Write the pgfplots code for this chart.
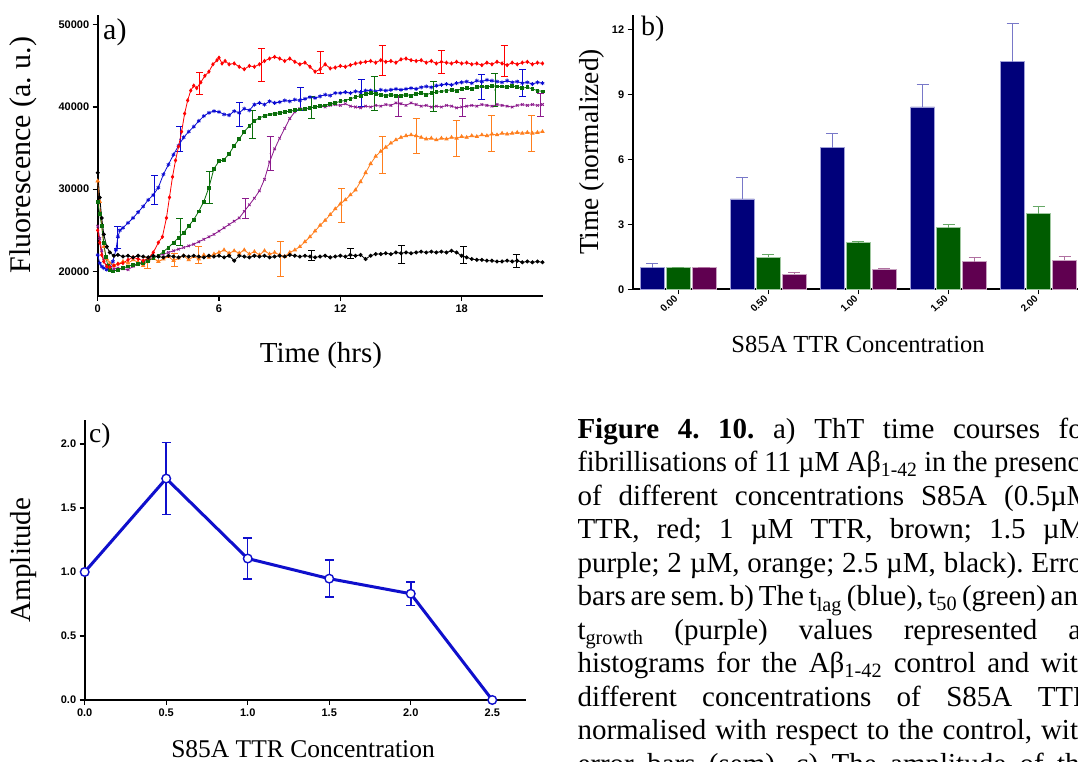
\documentclass[border=0pt]{standalone}
\usepackage{pgfplots}
\pgfplotsset{compat=1.18}
\usepackage{fontspec}
\usepackage{graphicx}
\setmainfont{Liberation Serif}
\newfontfamily\ticksans{Liberation Sans}
\newcommand\tickfont{\ticksans\bfseries\fontsize{11}{12}\selectfont}
\definecolor{cRed}{HTML}{FF0000}
\definecolor{cBlue}{HTML}{0A0AD2}
\definecolor{cGreen}{HTML}{0A6E0A}
\definecolor{cPurple}{HTML}{8C1A8C}
\definecolor{cOrange}{HTML}{FF7F1E}
\definecolor{cNavy}{HTML}{00007A}
\definecolor{cNavyE}{HTML}{A0A0D8}
\definecolor{cNavyErr}{HTML}{7878C8}
\definecolor{cDG}{HTML}{005C00}
\definecolor{cDGE}{HTML}{A0C8A0}
\definecolor{cDGErr}{HTML}{66A866}
\definecolor{cPl}{HTML}{600050}
\definecolor{cPlE}{HTML}{C8A0C0}
\definecolor{cPlErr}{HTML}{B070A0}
\definecolor{cLine}{HTML}{0F0FCC}
\pgfplotsset{
  /pgf/number format/assume math mode=true,
  base/.style={scale only axis, axis x line*=bottom, axis y line*=left,
    axis line style={line width=1.6pt, black},
    every tick/.style={black, line width=1.2pt},
    major tick length=5pt, tick align=outside,
    scaled ticks=false,
    tick label style={font=\tickfont}, clip=false},
  ebar/.style={only marks, mark=*, mark size=0.3pt, forget plot,
    error bars/.cd, y dir=both, y explicit,
    error bar style={line width=0.9pt},
    error mark options={rotate=90, mark size=3.5pt, line width=0.9pt}},
}
\newcommand\capline[2]{\node[anchor=base west, inner sep=0pt, font=\fontsize{29}{33.5}\selectfont] at (577.3pt,#1) {#2};}
\begin{document}
\frenchspacing
\begin{tikzpicture}
\useasboundingbox (0pt,0pt) rectangle (1078pt,762pt);
\clip (0pt,0pt) rectangle (1078pt,762pt);
\fill[white] (0pt,0pt) rectangle (1078pt,762pt);

% ---------------- panel a
\begin{axis}[base, at={(97.7pt,466pt)}, anchor=south west,
  width=444.8pt, height=281pt, xmin=0, xmax=22, ymin=17000, ymax=51200,
  xtick={0,6,12,18}, ytick={20000,30000,40000,50000},
  yticklabel style={/pgf/number format/1000 sep={}}]
% orange
\addplot[cOrange, line width=0.8pt, mark=triangle*, mark size=1.8pt] table[row sep=\\] {
0 31000\\ 0.1 28500\\ 0.2 25500\\ 0.3 23000\\ 0.45 21500\\ 0.6 21000\\ 0.8 20700\\ 1.0 20900\\
1.25 21200\\ 1.5 21000\\ 1.75 21400\\ 2.0 21100\\ 2.25 20700\\ 2.5 21300\\ 2.75 21600\\ 3.0 21200\\
3.25 21500\\ 3.5 21800\\ 3.75 21300\\ 4.0 21600\\ 4.25 21900\\ 4.5 21400\\ 4.75 21800\\ 5.0 21500\\
5.25 22000\\ 5.5 21700\\ 5.75 22100\\ 6.0 22300\\ 6.25 22600\\ 6.5 22200\\ 6.75 22500\\ 7.0 22200\\
7.25 22600\\ 7.5 22100\\ 7.75 22400\\ 8.0 22000\\ 8.25 22500\\ 8.5 22100\\ 8.75 22300\\ 9.0 22000\\
9.25 21800\\ 9.5 22300\\ 9.75 22600\\ 10.0 23000\\ 10.25 23600\\ 10.5 24200\\ 10.75 24900\\ 11.0 25600\\
11.25 26200\\ 11.5 26900\\ 11.75 27600\\ 12.0 28200\\ 12.25 28700\\ 12.5 29300\\ 12.75 29900\\ 13.0 30900\\
13.25 32000\\ 13.5 33100\\ 13.75 34000\\ 14.0 34600\\ 14.25 35100\\ 14.5 35600\\ 14.75 36000\\ 15.0 36300\\
15.25 36500\\ 15.5 36600\\ 15.75 36500\\ 16.0 36300\\ 16.25 36100\\ 16.5 36200\\ 16.75 36000\\ 17.0 36200\\
17.25 36100\\ 17.5 36300\\ 17.75 36200\\ 18.0 36400\\ 18.25 36300\\ 18.5 36500\\ 18.75 36400\\ 19.0 36600\\
19.25 36500\\ 19.5 36700\\ 19.75 36600\\ 20.0 36800\\ 20.25 36700\\ 20.5 36800\\ 20.75 36900\\ 21.0 36800\\
21.25 36900\\ 21.5 36800\\ 21.75 36900\\ 22.0 37000\\
};
\addplot[cOrange, ebar] coordinates {(2.48,21040)+-(0,710) (3.8,21350)+-(0,810) (5.0,21950)+-(0,1020) (9.03,21490)+-(0,2090) (12.07,27990)+-(0,2090) (14.07,34190)+-(0,2280) (15.75,36490)+-(0,2130) (17.73,36220)+-(0,2200) (19.47,36790)+-(0,2240) (21.47,36830)+-(0,2200)};
% purple
\addplot[cPurple, line width=0.8pt, mark=x, mark size=1.8pt] table[row sep=\\] {
0 25500\\ 0.1 24000\\ 0.2 22500\\ 0.3 21300\\ 0.45 20500\\ 0.6 20200\\ 0.8 20300\\ 1.0 20400\\
1.25 20300\\ 1.5 20200\\ 1.75 20600\\ 2.0 20900\\ 2.25 21200\\ 2.5 21500\\ 2.75 21700\\ 3.0 21900\\
3.25 22100\\ 3.5 22300\\ 3.75 22500\\ 4.0 22700\\ 4.25 22900\\ 4.5 23100\\ 4.75 23300\\ 5.0 23600\\
5.25 23900\\ 5.5 24200\\ 5.75 24500\\ 6.0 24900\\ 6.25 25300\\ 6.5 25700\\ 6.75 26100\\ 7.0 26500\\
7.25 27300\\ 7.5 28100\\ 7.75 28900\\ 8.0 29800\\ 8.25 31200\\ 8.5 33300\\ 8.75 34900\\ 9.0 36200\\
9.25 37400\\ 9.5 38600\\ 9.75 39400\\ 10.0 39800\\ 10.25 39700\\ 10.5 39900\\ 10.75 40000\\ 11.0 40100\\
11.25 40000\\ 11.5 40200\\ 11.75 40300\\ 12.0 40200\\ 12.25 40400\\ 12.5 40100\\ 12.75 40000\\ 13.0 39900\\
13.25 40100\\ 13.5 40000\\ 13.75 40200\\ 14.0 40100\\ 14.25 40300\\ 14.5 40200\\ 14.75 40500\\ 15.0 40400\\
15.25 40200\\ 15.5 40500\\ 15.75 40300\\ 16.0 40100\\ 16.25 40200\\ 16.5 40000\\ 16.75 40100\\ 17.0 40000\\
17.25 40200\\ 17.5 40100\\ 17.75 39900\\ 18.0 40000\\ 18.25 40100\\ 18.5 40200\\ 18.75 40100\\ 19.0 40300\\
19.25 40200\\ 19.5 40100\\ 19.75 40300\\ 20.0 40200\\ 20.25 40100\\ 20.5 40000\\ 20.75 40200\\ 21.0 40300\\
21.25 40200\\ 21.5 40300\\ 21.75 40200\\ 22.0 40300\\
};
\addplot[cPurple, ebar] coordinates {(7.31,27640)+-(0,1220) (8.53,34310)+-(0,2070) (14.87,40040)+-(0,1220) (18.05,39940)+-(0,1120) (21.9,40250)+-(0,1420)};
% blue
\addplot[cBlue, line width=0.8pt, mark=asterisk, mark size=2pt] table[row sep=\\] {
0 22000\\ 0.1 21000\\ 0.2 20600\\ 0.3 20400\\ 0.45 20200\\ 0.6 20500\\ 0.75 21200\\ 0.9 22600\\
1.0 24200\\ 1.1 25000\\ 1.25 25300\\ 1.5 25900\\ 1.75 26500\\ 2.0 27200\\ 2.25 27900\\ 2.5 28700\\
2.75 29300\\ 3.0 30200\\ 3.25 31800\\ 3.5 33000\\ 3.75 34200\\ 4.0 35300\\ 4.25 36300\\ 4.5 37000\\
4.75 37600\\ 5.0 38300\\ 5.25 38900\\ 5.5 39300\\ 5.75 39500\\ 6.0 39400\\ 6.25 39100\\ 6.5 39000\\
6.75 39500\\ 7.0 39300\\ 7.25 39800\\ 7.5 39600\\ 7.75 40300\\ 8.0 40500\\ 8.25 40300\\ 8.5 40700\\
8.75 40500\\ 9.0 40600\\ 9.25 40800\\ 9.5 40700\\ 9.75 40900\\ 10.0 40800\\ 10.25 41000\\ 10.5 41200\\
10.75 41100\\ 11.0 41300\\ 11.25 41500\\ 11.5 41400\\ 11.75 41700\\ 12.0 41700\\ 12.25 41800\\ 12.5 41700\\
12.75 41900\\ 13.0 41800\\ 13.25 42000\\ 13.5 42000\\ 13.75 41900\\ 14.0 42100\\ 14.25 42000\\ 14.5 42100\\
14.75 42200\\ 15.0 42100\\ 15.25 42200\\ 15.5 42300\\ 15.75 42200\\ 16.0 42400\\ 16.25 42500\\ 16.5 42400\\
16.75 42600\\ 17.0 42700\\ 17.25 42800\\ 17.5 42700\\ 17.75 42900\\ 18.0 43000\\ 18.25 43100\\ 18.5 42900\\
18.75 43200\\ 19.0 43100\\ 19.25 43300\\ 19.5 43200\\ 19.75 43100\\ 20.0 43000\\ 20.25 43200\\ 20.5 43000\\
20.75 43100\\ 21.0 42900\\ 21.25 43000\\ 21.5 42800\\ 21.75 43000\\ 22.0 42900\\
};
\addplot[cBlue, ebar] coordinates {(1.0,24125)+-(0,1360) (2.83,29940)+-(0,1770) (4.07,36080)+-(0,1520) (7.03,39100)+-(0,1420) (10.05,41020)+-(0,1380) (13.06,41750)+-(0,1630) (19.0,42470)+-(0,1540) (21.0,42890)+-(0,1630)};
% green
\addplot[cGreen, line width=0.8pt, mark=square*, mark size=1.4pt] table[row sep=\\] {
0 28500\\ 0.1 27000\\ 0.2 25500\\ 0.3 23500\\ 0.4 21800\\ 0.5 20700\\ 0.6 20200\\ 0.75 20000\\
1.0 20200\\ 1.25 20400\\ 1.5 20600\\ 1.75 20800\\ 2.0 20900\\ 2.25 21000\\ 2.5 21300\\ 2.75 21600\\
3.0 21900\\ 3.25 22400\\ 3.5 22900\\ 3.75 23500\\ 4.0 24100\\ 4.25 24700\\ 4.5 25500\\ 4.75 26300\\
5.0 27300\\ 5.25 28500\\ 5.5 30200\\ 5.75 32500\\ 6.0 33400\\ 6.25 33600\\ 6.5 34300\\ 6.75 35300\\
7.0 36100\\ 7.25 37000\\ 7.5 37700\\ 7.75 38300\\ 8.0 38700\\ 8.25 38900\\ 8.5 39100\\ 8.75 39200\\
9.0 39300\\ 9.25 39400\\ 9.5 39500\\ 9.75 39600\\ 10.0 39700\\ 10.25 39800\\ 10.5 39900\\ 10.75 40000\\
11.0 40100\\ 11.25 40200\\ 11.5 40400\\ 11.75 40500\\ 12.0 40700\\ 12.25 40800\\ 12.5 41000\\ 12.75 41200\\
13.0 41400\\ 13.25 41600\\ 13.5 41700\\ 13.75 41600\\ 14.0 41500\\ 14.25 41400\\ 14.5 41500\\ 14.75 41400\\
15.0 41400\\ 15.25 41500\\ 15.5 41400\\ 15.75 41600\\ 16.0 41700\\ 16.25 41500\\ 16.5 41700\\ 16.75 41800\\
17.0 41900\\ 17.25 42000\\ 17.5 42100\\ 17.75 42000\\ 18.0 42200\\ 18.25 42300\\ 18.5 42200\\ 18.75 42400\\
19.0 42500\\ 19.25 42400\\ 19.5 42600\\ 19.75 42500\\ 20.0 42500\\ 20.25 42400\\ 20.5 42600\\ 20.75 42400\\
21.0 42300\\ 21.25 42400\\ 21.5 42200\\ 21.75 42000\\ 22.0 41900\\
};
\addplot[cGreen, ebar] coordinates {(4.07,24800)+-(0,1630) (5.52,30180)+-(0,1930) (7.66,37900)+-(0,1730) (10.58,39940)+-(0,1320) (13.68,41700)+-(0,2070) (16.6,41260)+-(0,1830) (19.65,42070)+-(0,2030)};
% red
\addplot[cRed, line width=0.8pt, mark=diamond*, mark size=1.6pt] table[row sep=\\] {
0 25000\\ 0.1 23500\\ 0.2 22000\\ 0.3 21200\\ 0.45 20600\\ 0.6 20500\\ 0.8 20700\\ 1.0 20900\\
1.25 21000\\ 1.5 21400\\ 1.75 21700\\ 2.0 21500\\ 2.25 21300\\ 2.5 21600\\ 2.75 22300\\ 3.0 23500\\
3.2 24200\\ 3.4 26500\\ 3.55 29000\\ 3.7 31500\\ 3.85 33500\\ 4.0 35200\\ 4.15 37000\\ 4.3 39200\\
4.45 40800\\ 4.6 42000\\ 4.75 42600\\ 4.9 42300\\ 5.1 43000\\ 5.3 43800\\ 5.5 44300\\ 5.7 45200\\
5.9 45700\\ 6.0 46000\\ 6.15 45300\\ 6.3 45600\\ 6.5 45200\\ 6.75 45300\\ 7.0 44900\\ 7.25 44600\\
7.5 45000\\ 7.75 44900\\ 8.0 45200\\ 8.25 45600\\ 8.5 45900\\ 8.75 46100\\ 9.0 45900\\ 9.25 45600\\
9.5 45900\\ 9.75 45500\\ 10.0 45200\\ 10.25 45400\\ 10.5 44900\\ 10.75 44300\\ 11.0 44600\\ 11.25 45200\\
11.5 44700\\ 11.75 44800\\ 12.0 45000\\ 12.25 44900\\ 12.5 45100\\ 12.75 45300\\ 13.0 45400\\ 13.25 45500\\
13.5 45600\\ 13.75 45400\\ 14.0 45700\\ 14.25 45500\\ 14.5 45600\\ 14.75 45400\\ 15.0 45800\\ 15.25 45900\\
15.5 45700\\ 15.75 45600\\ 16.0 45700\\ 16.25 45400\\ 16.5 45600\\ 16.75 45300\\ 17.0 45500\\ 17.25 45400\\
17.5 45300\\ 17.75 45500\\ 18.0 45300\\ 18.25 45400\\ 18.5 45200\\ 18.75 45300\\ 19.0 45100\\ 19.25 45400\\
19.5 45200\\ 19.75 45500\\ 20.0 45300\\ 20.25 45100\\ 20.5 45400\\ 20.75 45200\\ 21.0 45400\\ 21.25 45500\\
21.5 45200\\ 21.75 45400\\ 22.0 45300\\
};
\addplot[cRed, ebar] coordinates {(5.04,42900)+-(0,1350) (8.1,45160)+-(0,1990) (11.0,45390)+-(0,1360) (14.07,45670)+-(0,1770) (17.0,45450)+-(0,1420) (20.1,45570)+-(0,1870)};
% black
\addplot[black, line width=0.8pt, mark=*, mark size=1.6pt] table[row sep=\\] {
0 32000\\ 0.1 29000\\ 0.2 26500\\ 0.3 24500\\ 0.45 23000\\ 0.6 22300\\ 0.8 21900\\ 1.0 22000\\
1.25 21800\\ 1.5 21900\\ 1.75 21700\\ 2.0 21900\\ 2.25 21800\\ 2.5 21700\\ 2.75 21900\\ 3.0 21800\\
3.25 21700\\ 3.5 21900\\ 3.75 21800\\ 4.0 21700\\ 4.25 21900\\ 4.5 21800\\ 4.75 21900\\ 5.0 21800\\
5.25 21700\\ 5.5 21900\\ 5.75 21800\\ 6.0 21900\\ 6.25 21700\\ 6.5 21900\\ 6.75 21300\\ 7.0 21900\\
7.25 21800\\ 7.5 21700\\ 7.75 21900\\ 8.0 21800\\ 8.25 21900\\ 8.5 21700\\ 8.75 21800\\ 9.0 21900\\
9.25 21800\\ 9.5 22000\\ 9.75 21900\\ 10.0 21800\\ 10.25 21900\\ 10.5 21800\\ 10.75 21700\\ 11.0 21800\\
11.25 21900\\ 11.5 21700\\ 11.75 21800\\ 12.0 21900\\ 12.25 21800\\ 12.5 22000\\ 12.75 21900\\ 13.0 22000\\
13.25 21500\\ 13.5 21900\\ 13.75 22100\\ 14.0 22100\\ 14.25 22200\\ 14.5 22100\\ 14.75 22300\\ 15.0 22200\\
15.25 22300\\ 15.5 22200\\ 15.75 22300\\ 16.0 22400\\ 16.25 22300\\ 16.5 22400\\ 16.75 22300\\ 17.0 22400\\
17.25 22300\\ 17.5 22500\\ 17.75 22300\\ 18.0 21900\\ 18.25 21700\\ 18.5 21500\\ 18.75 21400\\ 19.0 21400\\
19.25 21300\\ 19.5 21300\\ 19.75 21200\\ 20.0 21200\\ 20.25 21300\\ 20.5 21200\\ 20.75 21300\\ 21.0 21100\\
21.25 21200\\ 21.5 21100\\ 21.75 21200\\ 22.0 21100\\
};
\addplot[black, ebar] coordinates {(10.58,21950)+-(0,610) (12.48,22150)+-(0,610) (15.04,22050)+-(0,1120) (18.1,21950)+-(0,1020) (20.7,21280)+-(0,750)};
\end{axis}

% ---------------- panel b  (bars at group -0.2886 / 0 / +0.2886)
\begin{axis}[base, at={(632.7pt,472.7pt)}, anchor=south west,
  width=460pt, height=274.3pt, xmin=-0.506, xmax=4.6, ymin=0, ymax=12.66,
  xtick={0,1,2,3,4}, xticklabels={0.00,0.50,1.00,1.50,2.00},
  xticklabel style={rotate=45, anchor=east, font=\ticksans\bfseries\fontsize{10}{11}\selectfont},
  ytick={0,3,6,9,12}]
\addplot[ybar, bar width=24pt, bar shift=0pt, fill=cNavy, draw=cNavyE, line width=0.6pt,
  error bars/.cd, y dir=plus, y explicit, error bar style={cNavyErr, line width=1pt},
  error mark options={cNavyErr, rotate=90, mark size=6pt, line width=1pt}]
  coordinates {(-0.2886,1.0)+-(0,0.17) (0.7114,4.17)+-(0,0.98) (1.7114,6.54)+-(0,0.63) (2.7114,8.42)+-(0,1.03) (3.7114,10.51)+-(0,1.74)};
\addplot[ybar, bar width=24pt, bar shift=0pt, fill=cDG, draw=cDGE, line width=0.6pt,
  error bars/.cd, y dir=plus, y explicit, error bar style={cDGErr, line width=1pt},
  error mark options={cDGErr, rotate=90, mark size=6pt, line width=1pt}]
  coordinates {(0,1.0)+-(0,0.02) (1,1.48)+-(0,0.14) (2,2.18)+-(0,0.02) (3,2.85)+-(0,0.12) (4,3.49)+-(0,0.33)};
\addplot[ybar, bar width=24pt, bar shift=0pt, fill=cPl, draw=cPlE, line width=0.6pt,
  error bars/.cd, y dir=plus, y explicit, error bar style={cPlErr, line width=1pt},
  error mark options={cPlErr, rotate=90, mark size=6pt, line width=1pt}]
  coordinates {(0.2886,1.0)+-(0,0.02) (1.2886,0.69)+-(0,0.09) (2.2886,0.92)+-(0,0.06) (3.2886,1.28)+-(0,0.21) (4.2886,1.34)+-(0,0.18)};
\end{axis}

% ---------------- panel c
\begin{axis}[base, at={(84.7pt,62pt)}, anchor=south west,
  width=441pt, height=279.7pt, xmin=0, xmax=2.705, ymin=0, ymax=2.185,
  xtick={0,0.5,1,1.5,2,2.5}, ytick={0,0.5,1,1.5,2},
  ticklabel style={/pgf/number format/.cd, fixed, fixed zerofill, precision=1}]
\addplot[cLine, line width=3pt, mark=*, mark size=4.3pt,
  mark options={fill=white, line width=1.4pt, draw=cLine},
  error bars/.cd, y dir=both, y explicit, error bar style={cLine, line width=1.5pt},
  error mark options={cLine, rotate=90, mark size=4.5pt, line width=1.5pt}]
  coordinates {(0,1.0)+-(0,0) (0.5,1.73)+-(0,0.28) (1.0,1.105)+-(0,0.16) (1.5,0.948)+-(0,0.145) (2.0,0.83)+-(0,0.09) (2.5,0)+-(0,0)};
\end{axis}

% ---------------- labels
\node[anchor=base west, inner sep=0pt, font=\fontsize{30}{36}\selectfont] at (103pt,722pt) {a)};
\node[anchor=base west, inner sep=0pt, font=\fontsize{28}{34}\selectfont] at (641pt,726pt) {b)};
\node[anchor=base west, inner sep=0pt, font=\fontsize{27.5}{33}\selectfont] at (89pt,319pt) {c)};
\node[rotate=90, inner sep=0pt, font=\fontsize{30}{36}\selectfont] at (23pt,607pt) {Fluorescence (a. u.)};
\node[anchor=base, inner sep=0pt, font=\fontsize{29}{35}\selectfont] at (321pt,399pt) {Time (hrs)};
\node[rotate=90, inner sep=0pt, font=\fontsize{27.5}{33}\selectfont] at (591.7pt,610pt) {Time (normalized)};
\node[anchor=base, inner sep=0pt, font=\fontsize{24.5}{30}\selectfont] at (858pt,409pt) {S85A TTR Concentration};
\node[rotate=90, inner sep=0pt, font=\fontsize{29}{35}\selectfont] at (23.3pt,202pt) {Amplitude};
\node[anchor=base, inner sep=0pt, font=\fontsize{25.5}{31}\selectfont] at (303pt,4pt) {S85A TTR Concentration};

% ---------------- caption
\capline{323.7pt}{\makebox[515pt][s]{\textbf{Figure 4. 10.} a) ThT time courses for}}
\capline{290.2pt}{\resizebox{515pt}{\height}{fibrillisations of 11 µM Aβ\textsubscript{1-42} in the presence}}
\capline{256.7pt}{\makebox[515pt][s]{of different concentrations S85A (0.5µM}}
\capline{223.2pt}{\makebox[515pt][s]{TTR, red; 1 µM TTR, brown; 1.5 µM,}}
\capline{189.7pt}{\makebox[515pt][s]{purple; 2 µM, orange; 2.5 µM, black). Error}}
\capline{156.2pt}{\makebox[515pt][s]{bars are sem. b) The t\textsubscript{lag} (blue), t\textsubscript{50} (green) and}}
\capline{122.7pt}{\makebox[515pt][s]{t\textsubscript{growth} (purple) values represented as}}
\capline{89.2pt}{\makebox[515pt][s]{histograms for the Aβ\textsubscript{1-42} control and with}}
\capline{55.7pt}{\makebox[515pt][s]{different concentrations of S85A TTR}}
\capline{22.2pt}{\makebox[515pt][s]{normalised with respect to the control, with}}
\capline{-11.3pt}{\makebox[515pt][s]{error bars (sem). c) The amplitude of the}}
\end{tikzpicture}
\end{document}
